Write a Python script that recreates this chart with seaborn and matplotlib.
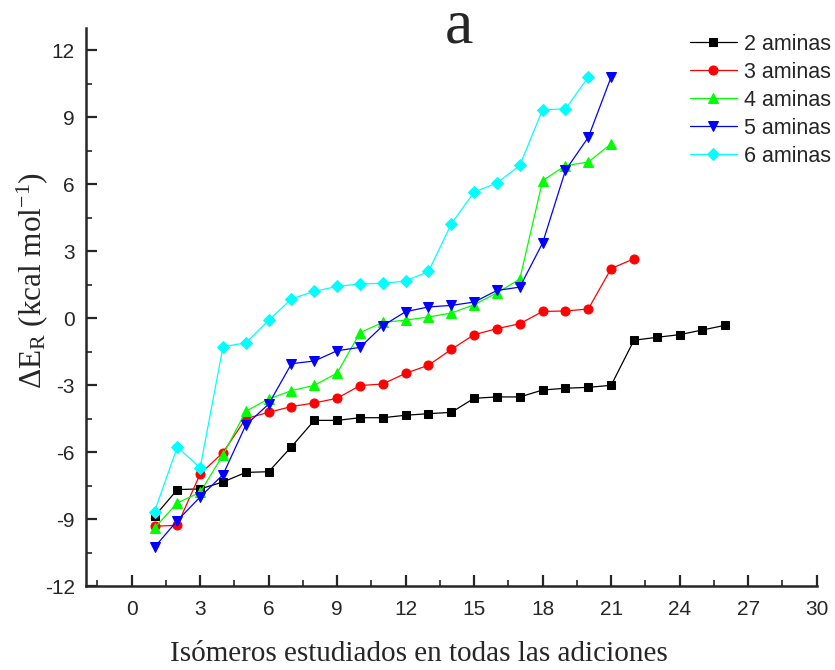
import pandas as pd
import matplotlib
matplotlib.use("Agg")
import matplotlib.pyplot as plt
import seaborn as sns
from matplotlib.ticker import MultipleLocator

# values
aminas2 = [-8.87, -7.67, -7.64, -7.33, -6.90, -6.87, -5.75, -4.57, -4.57, -4.45, -4.45, -4.34, -4.27,
           -4.21, -3.58, -3.52, -3.52, -3.21, -3.13, -3.09, -3.00, -0.98, -0.85, -0.73, -0.52, -0.31]
aminas3 = [-9.31, -9.27, -6.97, -6.01, -4.49, -4.21, -3.95, -3.79, -3.58, -3.01, -2.94, -2.46, -2.10,
           -1.39, -0.73, -0.46, -0.24, 0.31, 0.33, 0.42, 2.23, 2.67]
aminas4 = [-9.39, -8.27, -7.79, -6.12, -4.16, -3.61, -3.24, -3.00, -2.45, -0.64, -0.18, -0.08, 0.06,
           0.24, 0.61, 1.14, 1.76, 6.17, 6.84, 7.00, 7.82]
aminas5 = [-10.25, -9.06, -8.00, -7.00, -4.78, -3.84, -2.03, -1.91, -1.45, -1.30, -0.33, 0.30, 0.51,
           0.58, 0.73, 1.25, 1.40, 3.38, 6.63, 8.11, 10.81]
aminas6 = [-8.66, -5.76, -6.70, -1.27, -1.10, -0.09, 0.87, 1.21, 1.43, 1.54, 1.57, 1.67, 2.10,
           4.23, 5.66, 6.06, 6.85, 9.35, 9.38, 10.81]

series = {
    "2 aminas": aminas2,
    "3 aminas": aminas3,
    "4 aminas": aminas4,
    "5 aminas": aminas5,
    "6 aminas": aminas6,
}
colors = ["#000000", "#ff0000", "#00ff00", "#0000ff", "#00ffff"]
markers = ["s", "o", "^", "v", "D"]
msizes = [6, 6.5, 7, 7, 6]

sns.set_style("ticks")
plt.rcParams["font.family"] = ["Liberation Sans", "DejaVu Sans"]
plt.rcParams["axes.unicode_minus"] = False
plt.rcParams["mathtext.fontset"] = "custom"
plt.rcParams["mathtext.rm"] = "Liberation Serif"
plt.rcParams["mathtext.it"] = "Liberation Serif:italic"

fig = plt.figure(figsize=(8.35, 6.7), dpi=100)
ax = fig.add_axes([0.103, 0.125, 0.875, 0.833])

for (name, vals), c, m, ms in zip(series.items(), colors, markers, msizes):
    df = pd.DataFrame({"x": range(1, len(vals) + 1), "y": vals})
    sns.lineplot(data=df, x="x", y="y", ax=ax, color=c, marker=m, markersize=ms,
                 markeredgecolor=c, linewidth=0.9, label=name, sort=False)

ax.set_xlim(-2, 30)
ax.set_ylim(-12, 13)
ax.xaxis.set_major_locator(MultipleLocator(3))
ax.xaxis.set_minor_locator(MultipleLocator(1.5))
ax.yaxis.set_major_locator(MultipleLocator(3))
ax.yaxis.set_minor_locator(MultipleLocator(1.5))
ax.tick_params(which="major", direction="in", length=8, width=1.6, labelsize=15)
ax.tick_params(axis="x", which="major", pad=10)
ax.tick_params(axis="y", which="major", pad=8)
ax.tick_params(which="minor", direction="in", length=4, width=1.2)
ax.tick_params(axis="x", which="both", top=False)
ax.tick_params(axis="y", which="both", right=False)
sns.despine(ax=ax)
for s in ["left", "bottom"]:
    ax.spines[s].set_linewidth(1.8)
ax.set_xlabel("")
ax.set_ylabel("")

# axis titles placed where the reference has them
fig.text(0.502, 0.0134, "Isómeros estudiados en todas las adiciones", family="Liberation Serif",
         fontsize=21, ha="center", va="baseline")
fig.text(0.038, 0.582, r"$\Delta$E$_\mathrm{R}$ (kcal mol$^\mathrm{-1}$)", family="Liberation Serif",
         fontsize=22.5, rotation=90, ha="center", va="center")

fig.text(0.550, 0.936, "a", family="Liberation Serif", fontsize=46, ha="center", va="baseline")

ax.legend(loc="upper left", bbox_to_anchor=(0.826, 0.950), bbox_transform=fig.transFigure,
          frameon=False, fontsize=15.5, handlelength=2.2, handletextpad=0.33,
          labelspacing=0.33, borderpad=0, borderaxespad=0)

fig.savefig("out.png", dpi=100)
